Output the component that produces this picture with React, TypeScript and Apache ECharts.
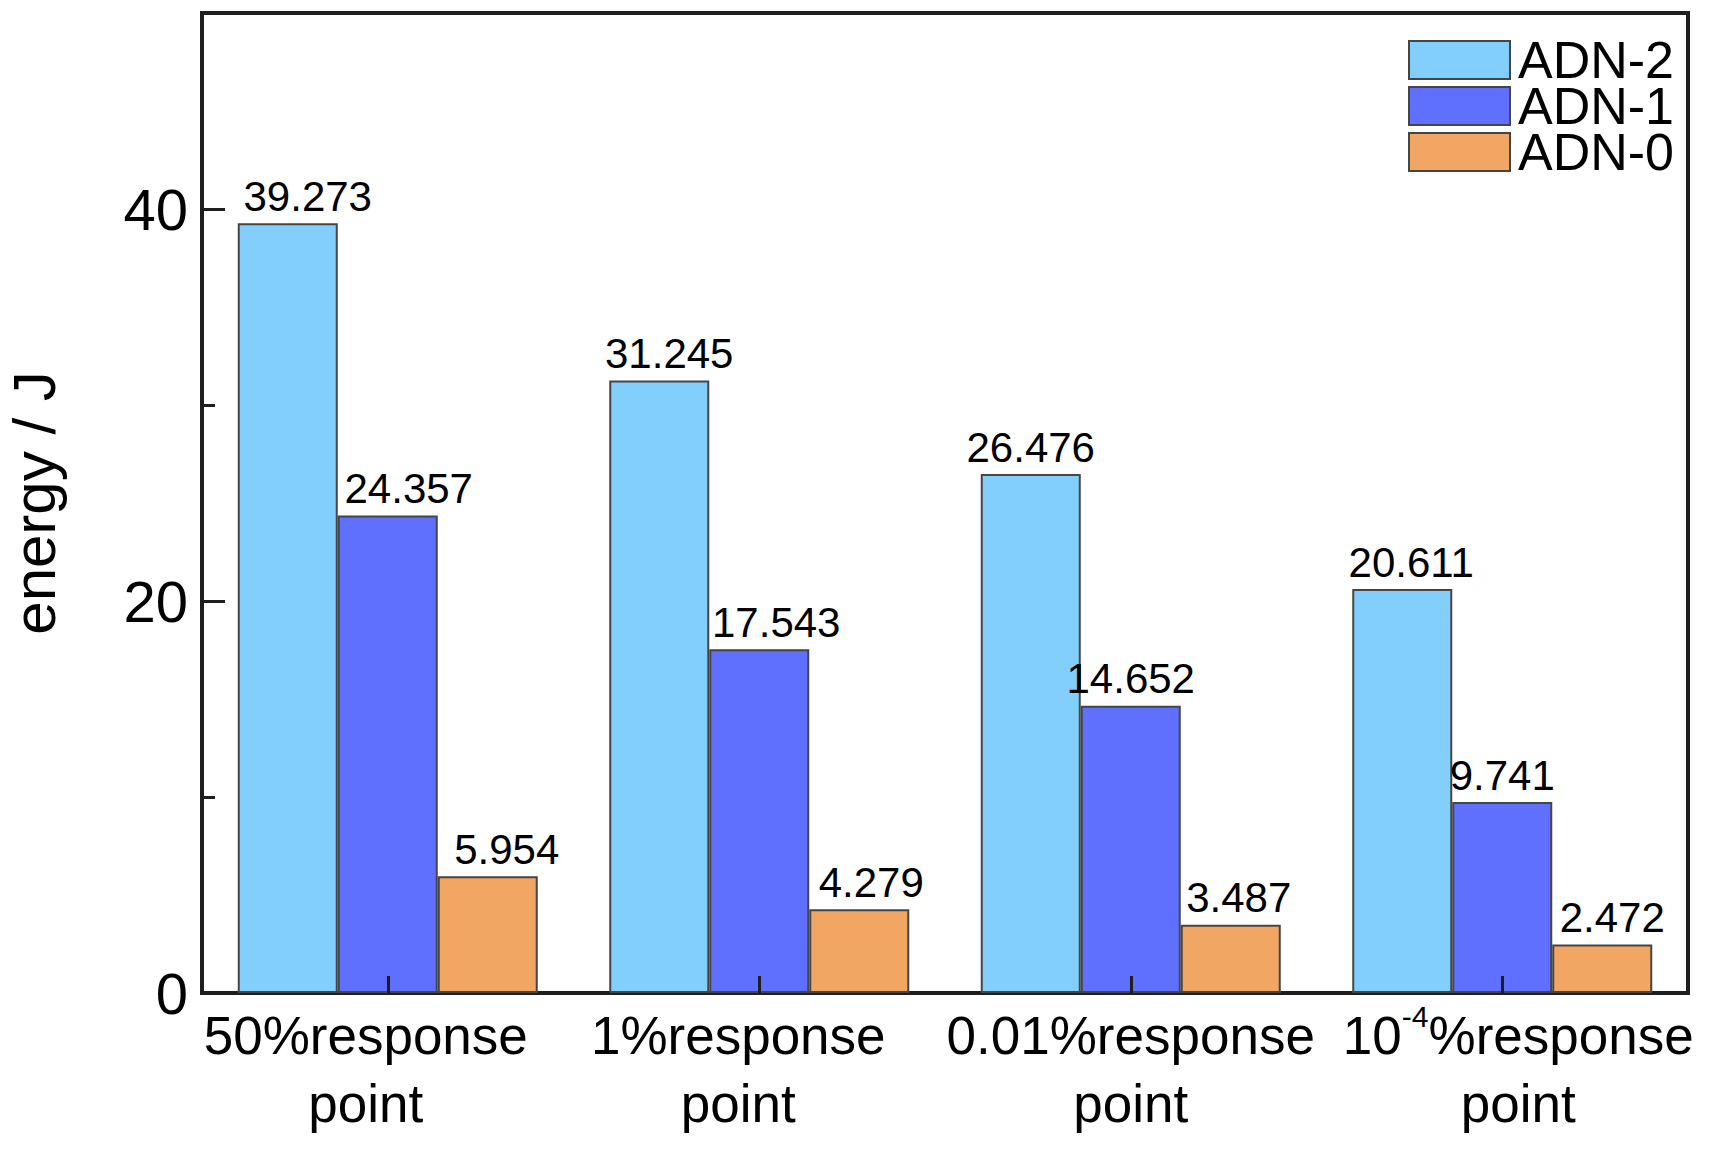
import React, { useEffect, useRef } from "react";
import * as echarts from "echarts";

const categories = [
  "50%response\npoint",
  "1%response\npoint",
  "0.01%response\npoint",
  "10^{-4}%response\npoint",
];
const seriesNames = ["ADN-2", "ADN-1", "ADN-0"];
const adn2 = [39.273, 31.245, 26.476, 20.611];
const adn1 = [24.357, 17.543, 14.652, 9.741];
const adn0 = [5.954, 4.279, 3.487, 2.472];
const yTickLabels = [0, 20, 40];

// horizontal nudges of the value labels and category labels (label layout only)
const labelShiftX = [
  [20, 10, 0, 9],
  [21, 17, 0, 0],
  [19, 12, 8, 10],
];
const categoryShiftX = [-22, -21, 0, 16];

const colors = ["#82CFFD", "#5F70FF", "#F2A664"];
const FONT = '"Liberation Sans", Arial, sans-serif';

export default function App() {
  const ref = useRef<HTMLDivElement>(null);
  useEffect(() => {
    document.body.style.margin = "0";
    if (!ref.current) return;
    const chart = echarts.init(ref.current, undefined, { renderer: "svg" });
    const values = [adn2, adn1, adn0];
    const option: any = {
      animation: false,
      backgroundColor: "#ffffff",
      textStyle: { fontFamily: FONT },
      grid: {
        left: 202,
        top: 13,
        width: 1486,
        height: 980,
        containLabel: false,
        outerBoundsMode: "none",
        show: true,
        borderColor: "#1e1e1e",
        borderWidth: 4,
        backgroundColor: "transparent",
      },
      legend: {
        orient: "vertical",
        left: 1408,
        top: 34,
        padding: 0,
        itemWidth: 101,
        itemHeight: 38,
        itemGap: -6,
        icon: "rect",
        data: seriesNames,
        textStyle: {
          fontFamily: FONT,
          fontSize: 52,
          lineHeight: 38,
          color: "#000",
          padding: [0, 0, 0, 3],
        },
      },
      xAxis: {
        type: "category",
        z: 5,
        data: categories.map((c, i) => {
          const s = categoryShiftX[i];
          return {
            value: c,
            textStyle: { padding: s < 0 ? [0, -2 * s, 0, 0] : [0, 0, 0, 2 * s] },
          };
        }),
        boundaryGap: true,
        axisLine: { show: false },
        axisTick: {
          show: true,
          inside: true,
          alignWithLabel: true,
          length: 17,
          lineStyle: { color: "#1e1e1e", width: 3 },
        },
        axisLabel: {
          interval: 0,
          margin: 8,
          color: "#000",
          fontFamily: FONT,
          fontSize: 53,
          lineHeight: 68,
          formatter: (v: string) => v.replace(/\^\{(.+?)\}/, "{sup|$1}"),
          rich: {
            sup: {
              fontFamily: FONT,
              fontSize: 30,
              lineHeight: 34,
              verticalAlign: "top",
              color: "#000",
            },
          },
        },
        splitLine: { show: false },
      },
      yAxis: [
        {
          type: "value",
          z: 5,
          min: 0,
          max: 50,
          interval: 20,
          position: "left",
          name: "energy / J",
          nameLocation: "middle",
          nameGap: 138,
          nameTextStyle: { fontFamily: FONT, fontSize: 60, color: "#000" },
          axisLine: { show: false },
          axisTick: {
            show: true,
            inside: true,
            length: 23,
            lineStyle: { color: "#1e1e1e", width: 3 },
          },
          axisLabel: {
            margin: 14,
            color: "#000",
            fontFamily: FONT,
            fontSize: 58,
            formatter: (v: number) => (yTickLabels.includes(v) ? String(v) : ""),
          },
          splitLine: { show: false },
        },
        {
          type: "value",
          z: 5,
          min: 0,
          max: 50,
          interval: 10,
          position: "left",
          axisLine: { show: false },
          axisTick: {
            show: true,
            inside: true,
            length: 13,
            lineStyle: { color: "#1e1e1e", width: 3 },
          },
          axisLabel: { show: false },
          splitLine: { show: false },
        },
      ],
      series: seriesNames.map((name, si) => ({
        name,
        type: "bar",
        yAxisIndex: 0,
        barWidth: 100,
        barGap: "0%",
        itemStyle: {
          color: colors[si],
          borderColor: "#454545",
          borderWidth: 2,
        },
        label: {
          show: true,
          position: "top",
          distance: 6,
          color: "#000",
          fontFamily: FONT,
          fontSize: 42,
          formatter: (p: any) => Number(p.value).toFixed(3),
        },
        data: values[si].map((v, i) => ({
          value: v,
          label: { offset: [labelShiftX[si][i], 0] },
        })),
      })),
    };
    chart.setOption(option);
    return () => chart.dispose();
  }, []);
  return <div ref={ref} style={{ width: 1713, height: 1151 }} />;
}
